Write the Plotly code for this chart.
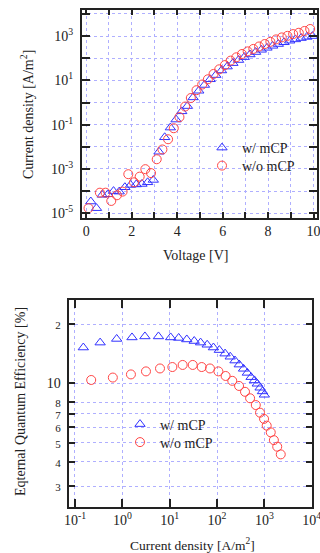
import plotly.graph_objects as go

# ---------------- data: J-V ----------------
V_w = [0.2, 0.45, 0.7, 0.95, 1.2, 1.45, 1.7, 1.95, 2.2, 2.45, 2.7, 2.95, 3.2, 3.45, 3.7, 3.95,
       4.2, 4.45, 4.7, 4.95, 5.2, 5.45, 5.7, 5.95, 6.2, 6.45, 6.7, 6.95, 7.2, 7.45, 7.7, 7.95,
       8.2, 8.45, 8.7, 8.95, 9.2, 9.45, 9.7, 9.95]
J_w = [3.4e-5, 1.7e-5, 6.8e-5, 7.2e-5, 1.0e-4, 9.5e-5, 1.5e-4, 1.9e-4, 2.0e-4, 2.1e-4, 2.5e-4, 3.2e-4,
       6.0e-3, 2.7e-2, 7.4e-2, 0.17, 0.40, 0.69, 1.7, 3.4, 6.2, 11.2, 17.4, 28, 42, 60, 83, 112,
       148, 190, 240, 295, 363, 437, 525, 617, 708, 813, 912, 1000]

V_wo = [0.1, 0.6, 0.85, 1.1, 1.35, 1.6, 1.85, 2.1, 2.35, 2.6, 2.85, 3.1, 3.35, 3.6, 3.85, 4.1,
        4.35, 4.6, 4.85, 5.1, 5.35, 5.6, 5.85, 6.1, 6.35, 6.6, 6.85, 7.1, 7.35, 7.6, 7.85, 8.1,
        8.35, 8.6, 8.85, 9.1, 9.35, 9.6, 9.85]
J_wo = [1.7e-5, 8.5e-5, 8.5e-5, 3.6e-5, 6.5e-5, 9.5e-5, 5.8e-4, 2.5e-4, 4.5e-4, 9.8e-4, 6.5e-4,
        2.75e-3, 7.6e-3, 2.2e-2, 6.9e-2, 0.22, 0.66, 1.6, 3.6, 6.5, 11.2, 19.5, 31.6, 49, 78, 110,
        155, 204, 263, 339, 437, 550, 708, 871, 1023, 1230, 1413, 1700, 2090]

# ---------------- data: EQE-J ----------------
Jq_w = [0.15, 0.34, 0.76, 1.6, 3.0, 5.8, 10.5, 15.5, 23, 33, 45, 62, 84, 112, 148, 190, 240,
        295, 363, 437, 525, 617, 708, 813, 912, 1000]
EQE_w = [15.2, 16.1, 16.8, 17.1, 17.3, 17.3, 17.1, 17.0, 16.7, 16.4, 16.1, 15.7, 15.2, 14.75,
         14.15, 13.65, 13.05, 12.45, 11.85, 11.3, 10.75, 10.35, 9.95, 9.5, 9.1, 8.75]

Jq_wo = [0.22, 0.63, 1.52, 3.16, 6.25, 11.4, 18.8, 30.7, 47.5, 71, 107, 152, 210, 292, 390,
         500, 660, 810, 985, 1120, 1365, 1590, 1870, 2220]
EQE_wo = [10.4, 10.7, 11.1, 11.5, 11.9, 12.1, 12.4, 12.4, 12.1, 11.9, 11.5, 10.9, 10.3, 9.7,
          9.06, 8.4, 7.76, 7.1, 6.6, 6.1, 5.64, 5.15, 4.77, 4.36]

labels = ["w/ mCP", "w/o mCP"]

# tick labels
v_ticks = list(range(0, 11))
v_text = [str(v) if v % 2 == 0 else "" for v in v_ticks]
j_ticks = [10.0 ** p for p in range(-5, 5)]
j_text = [("10<sup>%d</sup>" % p) if p % 2 != 0 else "" for p in range(-5, 5)]
jx_ticks = [10.0 ** p for p in range(-1, 5)]
jx_text = ["10<sup>%d</sup>" % p for p in range(-1, 5)]
eqe_ticks = [3, 4, 5, 6, 7, 8, 10, 20]
eqe_text = ["<span style='font-size:11px'>%s</span>" % t for t in ["3", "4", "5", "6", "7", "8"]] + ["10", "<span style='font-size:11px'>2</span>"]

BLUE = "rgb(50,50,255)"
RED = "rgb(255,70,70)"
GRID = "rgb(175,175,255)"
FONT = "Liberation Serif"
W, H = 320, 553

fig = go.Figure()
fig.add_trace(go.Scatter(x=V_w, y=J_w, mode="markers", name=labels[0], legend="legend", showlegend=True,
                         marker=dict(symbol="triangle-up-open", size=9, color=BLUE, line=dict(width=1)),
                         xaxis="x", yaxis="y"))
fig.add_trace(go.Scatter(x=V_wo, y=J_wo, mode="markers", name=labels[1], legend="legend2", showlegend=True,
                         marker=dict(symbol="circle-open", size=9, color=RED, line=dict(width=1)),
                         xaxis="x", yaxis="y"))
fig.add_trace(go.Scatter(x=Jq_w, y=EQE_w, mode="markers", name=labels[0], legend="legend3", showlegend=True,
                         marker=dict(symbol="triangle-up-open", size=9, color=BLUE, line=dict(width=1)),
                         xaxis="x2", yaxis="y2"))
fig.add_trace(go.Scatter(x=Jq_wo, y=EQE_wo, mode="markers", name=labels[1], legend="legend4", showlegend=True,
                         marker=dict(symbol="circle-open", size=9, color=RED, line=dict(width=1)),
                         xaxis="x2", yaxis="y2"))

common = dict(showline=True, linecolor="#222", linewidth=1.6, mirror="ticks", ticks="inside",
              tickcolor="#222", tickwidth=1.6, showgrid=True, gridcolor=GRID, griddash="dot",
              gridwidth=1, zeroline=False, tickfont=dict(family=FONT, size=14, color="#222"),
              automargin=False, ticklabeloverflow="allow")


def px_x(p):
    return p / W


def px_y(p):
    return 1 - p / H


def leg(xp, yp):
    return dict(x=px_x(xp), y=px_y(yp), xanchor="left", yanchor="middle", bgcolor="rgba(0,0,0,0)",
                visible=True, font=dict(family=FONT, size=14, color="#222"))


def ann(text, xp, yp, angle=0, size=14):
    return dict(text=text, x=px_x(xp), y=px_y(yp), xref="paper", yref="paper", xanchor="center",
                yanchor="middle", showarrow=False, textangle=angle,
                font=dict(family=FONT, size=size, color="#222"))


fig.update_layout(
    width=W, height=H, margin=dict(l=0, r=0, t=0, b=0), showlegend=True,
    paper_bgcolor="white", plot_bgcolor="white",
    font=dict(family=FONT, size=14, color="#222"),
    xaxis=dict(domain=[px_x(81.7), px_x(317)], range=[-0.2, 10.15], tickmode="array",
               tickvals=v_ticks, ticktext=v_text, ticklen=6, anchor="y", **common),
    yaxis=dict(domain=[px_y(217.7), px_y(9.5)], type="log", range=[-5.2, 4.2], tickmode="array",
               tickvals=j_ticks, ticktext=j_text, ticklen=8, anchor="x", ticklabelstandoff=4, **common),
    xaxis2=dict(domain=[px_x(69.3), px_x(311.7)], type="log", range=[-1.12, 4.0], tickmode="array",
                tickvals=jx_ticks, ticktext=jx_text, ticklen=8, anchor="y2", **common),
    yaxis2=dict(domain=[px_y(506.7), px_y(300)], type="log", range=[0.374, 1.423], tickmode="array",
                tickvals=eqe_ticks, ticktext=eqe_text, ticklen=6, anchor="x2", ticklabelstandoff=4, **common),
    legend=leg(202, 148),
    legend2=leg(202, 166),
    legend3=leg(120, 424.5),
    legend4=leg(120, 442.5),
    annotations=[
        ann("Voltage [V]", 195, 255),
        ann("Current density [A/m<sup>2</sup>]", 27, 115, angle=-90),
        ann("Current density [A/m<sup>2</sup>]", 192, 544, size=13.5),
        ann("Eqternal Quantum Efficiency [%]", 20, 402, angle=-90),
    ],
)

fig.write_html(
    "out.html",
    config={"displayModeBar": False},
    post_script=("document.body.style.margin='0px';"
                 "document.body.style.overflow='hidden';"
                 "document.documentElement.style.overflow='hidden';"),
)
